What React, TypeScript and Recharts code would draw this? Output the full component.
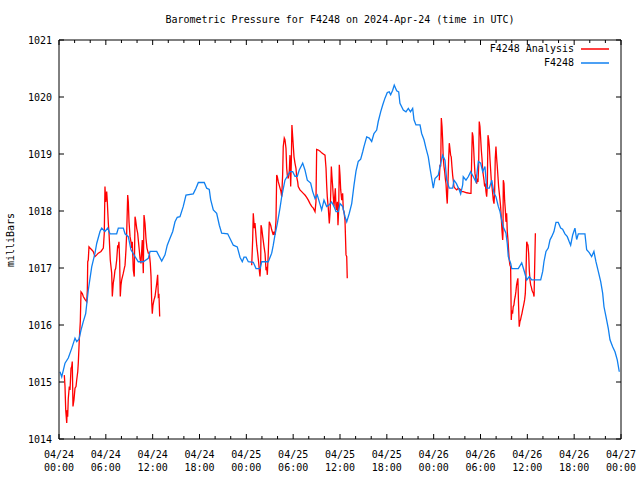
import { Line, LineChart, XAxis, YAxis } from "recharts";

// hours since 2024-04-24 00:00 UTC
const stationHours = [
  0.13, 0.35, 0.77, 1.19, 1.63, 2.05, 2.27, 2.56, 2.82, 3.11,
  3.42, 3.75, 4.19, 4.61, 4.83, 5.25, 5.47, 5.89, 6.24, 6.53,
  7.39, 7.6, 8.24, 8.46, 8.88, 9.22, 9.74, 10.16, 10.8, 11.44,
  11.66, 12.52, 13.16, 13.58, 13.87, 14.22, 14.57, 14.86, 15.15, 15.5,
  15.92, 16.27, 17.2, 17.55, 17.85, 18.61, 18.92, 19.25, 19.43, 19.77,
  20.2, 20.54, 20.84, 21.61, 22.0, 22.33, 22.84, 23.19, 23.48, 23.7,
  23.96, 24.25, 24.89, 25.24, 25.75, 25.97, 26.81, 27.25, 27.45, 27.67,
  27.97, 28.31, 28.53, 28.95, 29.25, 29.59, 29.94, 30.23, 30.53, 30.78,
  31.22, 31.51, 31.81, 32.24, 32.5, 32.8, 33.09, 33.35, 33.65, 33.95,
  34.29, 34.63, 34.93, 35.23, 35.49, 35.78, 36.0, 36.34, 36.64, 36.86,
  37.19, 37.5, 37.79, 38.05, 38.34, 38.65, 38.91, 39.07, 39.42, 39.75,
  40.06, 40.35, 40.7, 40.9, 41.21, 41.47, 41.76, 42.06, 42.31, 42.49,
  42.75, 42.95, 43.26, 43.52, 43.68, 44.11, 44.45, 44.75, 45.03, 45.31,
  45.48, 45.73, 46.25, 46.46, 46.76, 47.02, 47.31, 47.53, 47.75, 47.95,
  48.17, 48.59, 48.9, 49.15, 49.45, 49.67, 50.0, 50.44, 50.6, 50.92,
  51.28, 51.46, 51.72, 51.79, 52.14, 52.43, 52.74, 53.08, 53.42, 53.72,
  54.02, 54.28, 54.57, 54.79, 55.13, 55.44, 55.73, 55.98, 56.28, 56.5,
  56.71, 56.92, 57.26, 57.43, 57.56, 57.87, 58.0, 58.84, 59.28, 59.57,
  59.92, 60.25, 60.56, 61.71, 61.97, 62.13, 62.39, 62.68, 62.9, 63.12,
  63.41, 63.67, 63.96, 64.27, 64.52, 64.82, 65.12, 65.37, 65.55, 65.81,
  66.1, 66.32, 66.53, 67.38, 67.6, 67.93, 68.24, 68.53, 68.79, 69.09,
  69.4, 69.65, 69.82, 70.07, 70.37, 70.59, 70.93, 71.23, 71.52, 71.78,
];
const stationPressure = [
  1015.18, 1015.09, 1015.33, 1015.42, 1015.59, 1015.77, 1015.71, 1015.75, 1015.91, 1016.06,
  1016.2, 1016.61, 1017.02, 1017.26, 1017.43, 1017.64, 1017.7, 1017.64, 1017.7, 1017.6,
  1017.6, 1017.7, 1017.7, 1017.6, 1017.55, 1017.32, 1017.2, 1017.11, 1017.11, 1017.17,
  1017.29, 1017.29, 1017.12, 1017.23, 1017.4, 1017.52, 1017.64, 1017.81, 1017.89, 1017.9,
  1018.08, 1018.28, 1018.3, 1018.4, 1018.5, 1018.5, 1018.4, 1018.38, 1018.2, 1018.02,
  1017.96, 1017.75, 1017.61, 1017.6, 1017.49, 1017.4, 1017.37, 1017.19, 1017.11, 1017.19,
  1017.19, 1017.11, 1017.1, 1016.99, 1016.99, 1017.11, 1017.11, 1017.26, 1017.4, 1017.58,
  1017.78, 1018.05, 1018.25, 1018.54, 1018.61, 1018.69, 1018.69, 1018.61, 1018.61, 1018.72,
  1018.84, 1018.72, 1018.54, 1018.49, 1018.34, 1018.22, 1018.28, 1018.16, 1018.02, 1018.19,
  1018.08, 1018.11, 1018.16, 1018.08, 1017.99, 1017.99, 1018.13, 1018.08, 1017.9, 1017.81,
  1017.96, 1018.13, 1018.45, 1018.7, 1018.87, 1018.91, 1019.04, 1019.13, 1019.3, 1019.28,
  1019.22, 1019.36, 1019.42, 1019.57, 1019.74, 1019.86, 1019.98, 1020.08, 1020.09, 1020.04,
  1020.12, 1020.21, 1020.11, 1020.09, 1019.89, 1019.77, 1019.74, 1019.8, 1019.74, 1019.8,
  1019.6, 1019.51, 1019.51, 1019.36, 1019.25, 1019.1, 1018.95, 1018.75, 1018.57, 1018.4,
  1018.57, 1018.63, 1018.84, 1018.98, 1018.89, 1018.54, 1018.4, 1018.4, 1018.54, 1018.48,
  1018.37, 1018.3, 1018.46, 1018.6, 1018.54, 1018.6, 1018.69, 1018.6, 1018.51, 1018.87,
  1018.84, 1018.69, 1018.78, 1018.4, 1018.4, 1018.54, 1018.31, 1018.25, 1018.08, 1017.99,
  1017.84, 1017.72, 1017.61, 1017.43, 1017.2, 1017.08, 1016.99, 1016.99, 1017.09, 1016.96,
  1016.79, 1016.85, 1016.79, 1016.79, 1016.94, 1017.11, 1017.29, 1017.35, 1017.49, 1017.55,
  1017.64, 1017.8, 1017.8, 1017.7, 1017.68, 1017.6, 1017.55, 1017.46, 1017.4, 1017.58,
  1017.7, 1017.5, 1017.6, 1017.6, 1017.32, 1017.27, 1017.2, 1017.29, 1017.11, 1016.94,
  1016.76, 1016.56, 1016.32, 1016.15, 1015.94, 1015.74, 1015.62, 1015.53, 1015.39, 1015.18,
];

// analysis runs: three separate stretches
const analysisHoursA = [
  0.68, 0.77, 0.86, 0.99, 1.05, 1.11, 1.19, 1.32, 1.41, 1.54,
  1.63, 1.7, 1.79, 1.92, 2.05, 2.18, 2.27, 2.4, 2.47, 2.6,
  2.73, 2.82, 2.99, 3.11, 3.33, 3.55, 3.63, 3.68, 3.75, 3.84,
  3.97, 4.19, 4.39, 4.61, 4.83, 5.03, 5.38, 5.68, 5.8, 5.89,
  5.98, 6.11, 6.19, 6.32, 6.41, 6.57, 6.75, 6.83, 6.95, 7.08,
  7.17, 7.26, 7.39, 7.52, 7.6, 7.68, 7.77, 7.85, 7.94, 8.03,
  8.24, 8.36, 8.46, 8.58, 8.67, 8.8, 8.88, 8.97, 9.1, 9.22,
  9.31, 9.39, 9.52, 9.64, 9.74, 9.82, 9.95, 10.08, 10.16, 10.28,
  10.38, 10.5, 10.67, 10.8, 10.89, 11.02, 11.14, 11.27, 11.44, 11.57,
  11.7, 11.79, 11.87, 11.95, 12.04, 12.17, 12.3, 12.52, 12.64, 12.72,
  12.81, 12.9,
];
const analysisPressureA = [
  1015.12, 1014.92, 1014.51, 1014.28, 1014.51, 1014.39, 1014.71, 1014.92, 1014.86, 1015.24,
  1015.27, 1015.36, 1014.57, 1014.69, 1014.89, 1014.92, 1015.04, 1015.18, 1015.33, 1015.74,
  1016.06, 1016.58, 1016.55, 1016.5, 1016.45, 1016.41, 1016.61, 1017.11, 1017.14, 1017.37,
  1017.35, 1017.32, 1017.29, 1017.2, 1017.23, 1017.26, 1017.29, 1017.35, 1017.61, 1018.43,
  1018.16, 1018.34, 1018.16, 1017.78, 1017.61, 1017.14, 1016.91, 1016.5, 1016.73, 1016.85,
  1016.96, 1016.99, 1017.14, 1017.4, 1017.35, 1017.46, 1017.14, 1016.5, 1016.7, 1016.79,
  1016.91, 1016.99, 1017.05, 1017.32, 1017.61, 1018.28, 1018.16, 1017.81, 1017.55, 1017.46,
  1017.35, 1017.46, 1016.96, 1016.85, 1017.9, 1017.84, 1017.7, 1017.61, 1017.49, 1017.32,
  1017.17, 1017.08, 1017.49, 1016.91, 1017.93, 1017.78, 1017.52, 1017.35, 1017.26, 1017.26,
  1017.08, 1016.85, 1016.44, 1016.2, 1016.35, 1016.44, 1016.5, 1016.73, 1016.88, 1016.5,
  1016.52, 1016.15,
];
const analysisHoursB = [
  24.69, 24.81, 24.89, 25.02, 25.11, 25.24, 25.33, 25.46, 25.59, 25.66,
  25.75, 25.84, 25.88, 25.97, 26.1, 26.27, 26.4, 26.52, 26.61, 26.69,
  26.81, 26.94, 27.12, 27.25, 27.45, 27.54, 27.67, 27.8, 27.89, 27.97,
  28.1, 28.22, 28.44, 28.53, 28.65, 28.73, 28.86, 28.95, 29.08, 29.17,
  29.25, 29.37, 29.5, 29.59, 29.68, 29.76, 29.84, 29.94, 30.02, 30.11,
  30.23, 30.36, 30.45, 30.58, 30.65, 30.87, 31.09, 31.3, 31.51, 31.73,
  31.94, 32.16, 32.37, 32.58, 32.8, 32.92, 33.01, 33.22, 33.44, 33.65,
  33.86, 34.08, 34.21, 34.29, 34.37, 34.5, 34.63, 34.72, 34.81, 34.89,
  34.97, 35.06, 35.14, 35.23, 35.32, 35.4, 35.49, 35.57, 35.66, 35.74,
  35.83, 35.91, 36.0, 36.09, 36.22, 36.34, 36.42, 36.51, 36.64, 36.77,
  36.86, 36.93,
];
const analysisPressureB = [
  1017.05, 1017.49, 1017.96, 1017.7, 1017.79, 1017.55, 1017.4, 1017.25, 1017.08, 1016.96,
  1016.85, 1017.08, 1017.75, 1017.7, 1017.55, 1017.37, 1017.25, 1016.96, 1017.02, 1016.88,
  1017.26, 1017.81, 1017.75, 1017.67, 1017.58, 1017.64, 1017.58, 1017.84, 1018.63, 1018.6,
  1018.51, 1018.45, 1018.34, 1018.25, 1018.63, 1019.13, 1019.28, 1019.25, 1019.1, 1018.75,
  1018.63, 1018.57, 1018.69, 1018.98, 1018.43, 1018.84, 1019.51, 1019.3, 1019.13, 1018.95,
  1018.84, 1018.75, 1018.6, 1018.51, 1018.43, 1018.37, 1018.34, 1018.31, 1018.28, 1018.24,
  1018.19, 1018.13, 1018.08, 1018.05, 1017.99, 1018.16, 1019.08, 1019.07, 1019.05, 1019.02,
  1019.0, 1018.98, 1018.75, 1018.46, 1018.25, 1018.05, 1017.78, 1017.96, 1018.3, 1018.78,
  1018.6, 1018.43, 1018.25, 1018.08, 1018.25, 1018.4, 1018.05, 1018.02, 1018.16, 1017.75,
  1018.02, 1018.81, 1018.63, 1018.37, 1018.19, 1018.31, 1018.02, 1017.99, 1017.84, 1017.23,
  1017.2, 1016.82,
];
const analysisHoursC = [
  48.72, 48.81, 48.9, 48.98, 49.07, 49.15, 49.23, 49.32, 49.41, 49.49,
  49.58, 49.67, 49.74, 49.83, 49.92, 50.0, 50.08, 50.17, 50.25, 50.34,
  50.43, 50.51, 50.6, 50.72, 50.95, 51.16, 51.38, 51.6, 51.79, 52.23,
  52.65, 52.78, 52.87, 52.95, 53.04, 53.13, 53.2, 53.29, 53.42, 53.51,
  53.59, 53.68, 53.76, 53.84, 53.93, 54.02, 54.1, 54.19, 54.28, 54.36,
  54.45, 54.53, 54.62, 54.7, 54.79, 54.87, 54.96, 55.05, 55.13, 55.21,
  55.3, 55.38, 55.47, 55.56, 55.64, 55.73, 55.81, 55.89, 55.98, 56.07,
  56.15, 56.24, 56.32, 56.41, 56.5, 56.58, 56.67, 56.75, 56.84, 56.88,
  56.92, 57.01, 57.09, 57.18, 57.26, 57.35, 57.43, 57.52, 57.6, 57.68,
  57.77, 57.86, 57.94, 58.02, 58.11, 58.19, 58.28, 58.36, 58.45, 58.53,
  58.62, 58.7, 58.79, 58.87, 58.96, 59.05, 59.13, 59.22, 59.31, 59.39,
  59.48, 59.57, 59.65, 59.74, 59.83, 59.92, 59.99, 60.08, 60.17, 60.25,
  60.34, 60.43, 60.51, 60.6, 60.69, 60.77, 60.86, 60.94, 61.03,
];
const analysisPressureC = [
  1018.54, 1018.81, 1018.78, 1019.63, 1019.48, 1019.25, 1018.92, 1018.78, 1018.69, 1018.57,
  1018.48, 1018.25, 1018.13, 1018.48, 1018.92, 1019.19, 1019.1, 1018.98, 1018.95, 1018.78,
  1018.63, 1018.54, 1018.43, 1018.4, 1018.37, 1018.4, 1018.38, 1018.34, 1018.34, 1018.32,
  1018.31, 1018.31, 1018.92, 1019.38, 1019.31, 1019.08, 1018.87, 1018.66, 1018.54, 1018.48,
  1018.57, 1018.51, 1018.78, 1019.57, 1019.48, 1019.28, 1019.08, 1018.92, 1018.72, 1018.63,
  1018.54, 1018.43, 1018.48, 1018.34, 1018.25, 1018.43, 1019.33, 1019.25, 1019.13, 1018.92,
  1018.72, 1018.54, 1018.43, 1018.31, 1018.19, 1018.13, 1018.33, 1018.92, 1019.13, 1018.92,
  1018.78, 1018.6, 1018.43, 1018.31, 1018.19, 1018.07, 1017.87, 1017.66, 1017.49, 1017.6,
  1018.54, 1018.48, 1018.19, 1018.02, 1017.81, 1017.96, 1017.64, 1017.49, 1017.31, 1017.14,
  1017.05, 1017.02, 1016.09, 1016.26, 1016.2, 1016.32, 1016.35, 1016.44, 1016.5, 1016.58,
  1016.7, 1016.76, 1016.82, 1016.38, 1015.97, 1016.06, 1016.09, 1016.15, 1016.2, 1016.26,
  1016.32, 1016.38, 1016.44, 1016.55, 1016.91, 1017.46, 1017.43, 1017.4, 1017.26, 1016.96,
  1016.79, 1016.7, 1016.67, 1016.61, 1016.58, 1016.56, 1016.5, 1017.02, 1017.61,
];

const hourTicks = [
  0, 2, 4, 6, 8, 10, 12, 14, 16, 18, 20, 22, 24, 26, 28, 30, 32, 34, 36,
  38, 40, 42, 44, 46, 48, 50, 52, 54, 56, 58, 60, 62, 64, 66, 68, 70, 72,
];
const dayLabels = [
  "04/24", "04/24", "04/24", "04/24", "04/25", "04/25", "04/25",
  "04/25", "04/26", "04/26", "04/26", "04/26", "04/27",
];
const timeLabels = [
  "00:00", "06:00", "12:00", "18:00", "00:00", "06:00", "12:00",
  "18:00", "00:00", "06:00", "12:00", "18:00", "00:00",
];
const pressureTicks = [1014, 1015, 1016, 1017, 1018, 1019, 1020, 1021];

const FONT = "'DejaVu Sans Mono', 'Liberation Mono', monospace";
const RED = "#ff0000";
const BLUE = "#1080f0";

const stationData = stationHours.map((t, i) => ({ t, p: stationPressure[i] }));

const analysisRuns: [number[], number[]][] = [
  [analysisHoursA, analysisPressureA],
  [analysisHoursB, analysisPressureB],
  [analysisHoursC, analysisPressureC],
];
const analysisData = analysisRuns.flatMap(([hs, ps], k) => {
  const rows: { t: number; p: number | null }[] = hs.map((t, i) => ({ t, p: ps[i] }));
  if (k < analysisRuns.length - 1) rows.push({ t: hs[hs.length - 1] + 0.05, p: null });
  return rows;
});

function BottomTick({ x, y, payload }: any) {
  const h = payload.value;
  const major = h % 6 === 0;
  const i = h / 6;
  return (
    <g>
      <line x1={x} y1={y} x2={x} y2={y - (major ? 5 : 3)} stroke="#000" />
      {major && (
        <text textAnchor="middle" fontFamily={FONT} fontSize={10} fill="#000">
          <tspan x={x} y={y + 19}>{dayLabels[i]}</tspan>
          <tspan x={x} y={y + 32}>{timeLabels[i]}</tspan>
        </text>
      )}
    </g>
  );
}

function TopTick({ x, y, payload }: any) {
  const major = payload.value % 6 === 0;
  return <line x1={x} y1={y} x2={x} y2={y + (major ? 5 : 3)} stroke="#000" />;
}

function LeftTick({ x, y, payload }: any) {
  return (
    <g>
      <line x1={x} y1={y} x2={x + 5} y2={y} stroke="#000" />
      <text x={x - 7} y={y + 4} textAnchor="end" fontFamily={FONT} fontSize={10} fill="#000">
        {payload.value}
      </text>
    </g>
  );
}

function RightTick({ x, y }: any) {
  return <line x1={x} y1={y} x2={x - 5} y2={y} stroke="#000" />;
}

const textStyle = {
  position: "absolute" as const,
  fontFamily: FONT,
  fontSize: 10,
  lineHeight: "12px",
  color: "#000",
  whiteSpace: "nowrap" as const,
};

function LegendSwatch({ top, color }: { top: number; color: string }) {
  return (
    <svg width={30} height={6} style={{ position: "absolute", left: 580, top: top - 3 }}>
      <line x1={1} y1={3} x2={29} y2={3} stroke={color} strokeWidth={1.5} />
    </svg>
  );
}

export default function App() {
  return (
    <div style={{ position: "relative", width: 640, height: 480, overflow: "hidden", background: "#fff" }}>
      <style>{"body{margin:0}"}</style>
      <LineChart width={640} height={480} margin={{ top: 0, right: 0, bottom: 0, left: 0 }}>
        <XAxis
          dataKey="t"
          type="number"
          domain={[0, 72]}
          ticks={hourTicks}
          interval={0}
          height={41}
          tickSize={0}
          tickMargin={0}
          tickLine={false}
          axisLine={{ stroke: "#000" }}
          tick={<BottomTick />}
        />
        <XAxis
          xAxisId="top"
          dataKey="t"
          orientation="top"
          type="number"
          domain={[0, 72]}
          ticks={hourTicks}
          interval={0}
          height={40}
          tickSize={0}
          tickMargin={0}
          tickLine={false}
          axisLine={{ stroke: "#000" }}
          tick={<TopTick />}
        />
        <YAxis
          type="number"
          domain={[1014, 1021]}
          ticks={pressureTicks}
          interval={0}
          width={59}
          tickSize={0}
          tickMargin={0}
          tickLine={false}
          axisLine={{ stroke: "#000" }}
          tick={<LeftTick />}
        />
        <YAxis
          yAxisId="right"
          orientation="right"
          type="number"
          domain={[1014, 1021]}
          ticks={pressureTicks}
          interval={0}
          width={19}
          tickSize={0}
          tickMargin={0}
          tickLine={false}
          axisLine={{ stroke: "#000" }}
          tick={<RightTick />}
        />
        {/* invisible copy so the mirrored top/right axes get drawn */}
        <Line
          data={stationData}
          dataKey="p"
          xAxisId="top"
          yAxisId="right"
          stroke="none"
          dot={false}
          activeDot={false}
          legendType="none"
          isAnimationActive={false}
        />
        <Line
          data={analysisData}
          dataKey="p"
          name="F4248 Analysis"
          type="linear"
          stroke={RED}
          strokeWidth={1.3}
          dot={false}
          activeDot={false}
          connectNulls={false}
          isAnimationActive={false}
        />
        <Line
          data={stationData}
          dataKey="p"
          name="F4248"
          type="linear"
          stroke={BLUE}
          strokeWidth={1.3}
          dot={false}
          activeDot={false}
          isAnimationActive={false}
        />
      </LineChart>

      <div style={{ ...textStyle, left: 40, width: 600, top: 14, textAlign: "center" }}>
        Barometric Pressure for F4248 on 2024-Apr-24 (time in UTC)
      </div>
      <div
        style={{
          ...textStyle,
          left: 11,
          top: 240,
          transform: "translate(-50%, -50%) rotate(-90deg)",
        }}
      >
        milliBars
      </div>

      <div style={{ ...textStyle, right: 66, top: 43, textAlign: "right" }}>F4248 Analysis</div>
      <LegendSwatch top={49} color={RED} />
      <div style={{ ...textStyle, right: 66, top: 57, textAlign: "right" }}>F4248</div>
      <LegendSwatch top={63} color={BLUE} />
    </div>
  );
}
